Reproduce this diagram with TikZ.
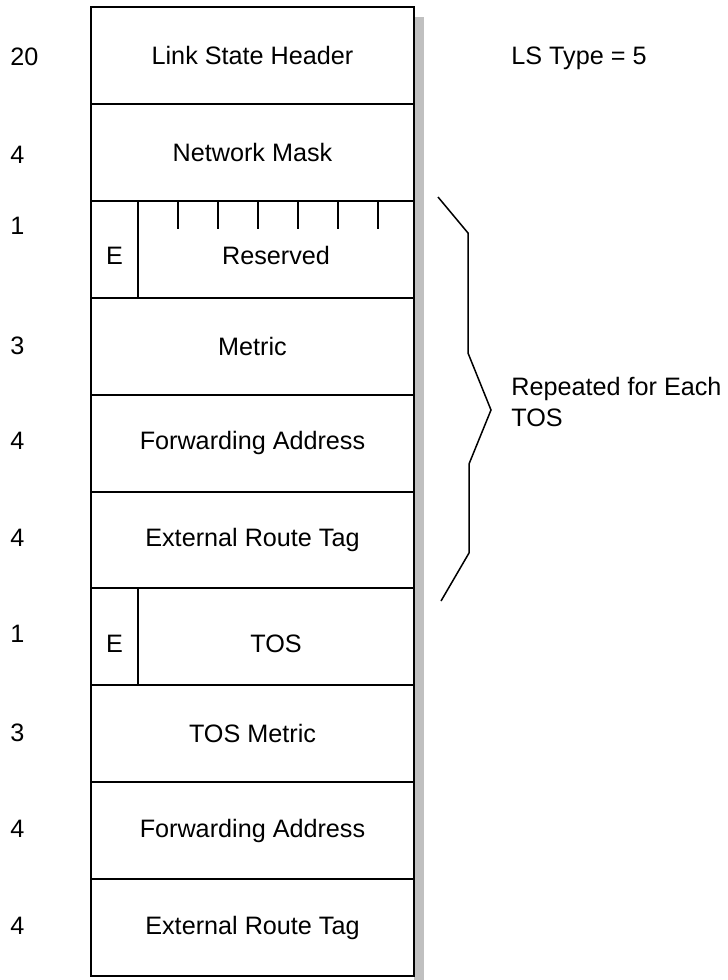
\documentclass[tikz,border=0pt]{standalone}
\usepackage{fontspec}
\setmainfont{Liberation Sans}
\usetikzlibrary{positioning}
\definecolor{shadowgray}{RGB}{192,192,192}

\tikzset{
  field/.style={draw,fill=white,line width=1pt,outer sep=0pt,inner sep=0pt,
    minimum width=161.5pt,minimum height=48.45pt,font=\fontsize{12.6}{14}\selectfont},
  ebit/.style={field,minimum width=23.5pt,text height=15.5pt,text depth=0pt},
  restfield/.style={field,minimum width=138pt,text height=15.5pt,text depth=0pt},
  lenlabel/.style={anchor=west,inner sep=0pt,font=\fontsize{12.6}{14}\selectfont},
  note/.style={anchor=west,inner sep=0pt,align=left,font=\fontsize{12.6}{15.5}\selectfont}
}

\begin{document}
\begin{tikzpicture}[x=0.5pt,y=-0.5pt]
\useasboundingbox (0,0) rectangle (728,980);
\fill[shadowgray] (414,17) rectangle (424,980);
% the fields
\node[field,anchor=north west] (lsh) at (91,7) {Link State Header};
\node[field,below=0pt of lsh] (mask) {Network Mask};
\node[ebit,below right=0pt of mask.south west] (e1) {E};
\node[restfield,right=0pt of e1] (resv) {Reserved};
\node[field,below right=0pt of e1.south west] (metric) {Metric};
\node[field,below=0pt of metric] (fwd1) {Forwarding Address};
\node[field,below=0pt of fwd1] (tag1) {External Route Tag};
\node[ebit,below right=0pt of tag1.south west] (e2) {E};
\node[restfield,right=0pt of e2] (tos) {TOS};
\node[field,below right=0pt of e2.south west] (tosmetric) {TOS Metric};
\node[field,below=0pt of tosmetric] (fwd2) {Forwarding Address};
\node[field,below=0pt of fwd2] (tag2) {External Route Tag};
\foreach \k in {1,...,6}
  \draw[line width=1pt] ([xshift=\k*20pt]resv.north west) -- ++(0,28);
% sizes
\node[lenlabel] (len1) at (10,57) {20};
\node[lenlabel] (len2) at (10,155) {4};
\node[lenlabel] (len3) at (10,226) {1};
\node[lenlabel] (len4) at (10,346) {3};
\node[lenlabel] (len5) at (10,441) {4};
\node[lenlabel] (len6) at (10,538) {4};
\node[lenlabel] (len7) at (10,634) {1};
\node[lenlabel] (len8) at (10,733) {3};
\node[lenlabel] (len9) at (10,829) {4};
\node[lenlabel] (len10) at (10,926) {4};
\node[lenlabel] (lstype) at (511,58) {LS Type = 5};
% brace
\draw[line width=0.75pt] (438,197) -- (468,233) -- (468,353) -- (491,410)
  -- (469,464) -- (469,553) -- (441,601);
\node[note] (rep) at (511,402) {Repeated for Each\\TOS};
\end{tikzpicture}
\end{document}
